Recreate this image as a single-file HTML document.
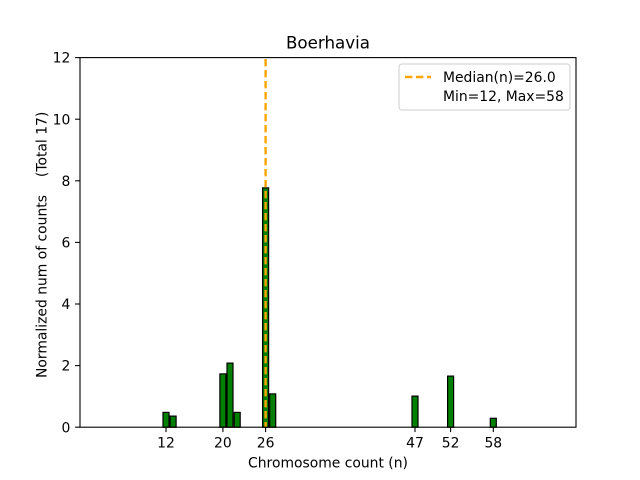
<!DOCTYPE html>
<html>
<head>
<meta charset="utf-8">
<style>
  html, body { margin: 0; padding: 0; background: #fff; }
  svg { display: block; }
  text { font-family: "DejaVu Sans", "Liberation Sans", sans-serif; fill: #000; }
</style>
</head>
<body>
<svg width="640" height="480" viewBox="0 0 640 480" xmlns="http://www.w3.org/2000/svg">
  <rect x="0" y="0" width="640" height="480" fill="#fff"/>

  <!-- bars -->
  <g fill="#008000" stroke="#000" stroke-width="1.2">
    <rect x="163.0" y="412.4" width="6.0" height="14.8"/>
    <rect x="170.1" y="416.1" width="6.0" height="11.1"/>
    <rect x="219.9" y="373.9" width="6.0" height="53.3"/>
    <rect x="227.0" y="363.1" width="6.0" height="64.1"/>
    <rect x="234.2" y="412.4" width="6.0" height="14.8"/>
    <rect x="262.6" y="187.9" width="6.0" height="239.3"/>
    <rect x="269.7" y="393.9" width="6.0" height="33.3"/>
    <rect x="412.0" y="396.1" width="6.0" height="31.1"/>
    <rect x="447.6" y="376.1" width="6.0" height="51.1"/>
    <rect x="490.3" y="418.3" width="6.0" height="8.9"/>
  </g>

  <!-- median line -->
  <line x1="265.6" y1="59" x2="265.6" y2="427.2" stroke="#FFA500" stroke-width="2.4" stroke-dasharray="7.4 3.6"/>

  <!-- axes frame -->
  <rect x="80" y="57.6" width="496" height="369.6" fill="none" stroke="#000" stroke-width="1.1"/>

  <!-- y ticks -->
  <g stroke="#000" stroke-width="1.1">
    <line x1="75.1" y1="427.2" x2="80" y2="427.2"/>
    <line x1="75.1" y1="365.6" x2="80" y2="365.6"/>
    <line x1="75.1" y1="304.0" x2="80" y2="304.0"/>
    <line x1="75.1" y1="242.4" x2="80" y2="242.4"/>
    <line x1="75.1" y1="180.8" x2="80" y2="180.8"/>
    <line x1="75.1" y1="119.2" x2="80" y2="119.2"/>
    <line x1="75.1" y1="57.6" x2="80" y2="57.6"/>
  </g>
  <g font-size="13.9" text-anchor="end">
    <text x="70.3" y="432.3">0</text>
    <text x="70.3" y="370.7">2</text>
    <text x="70.3" y="309.1">4</text>
    <text x="70.3" y="247.5">6</text>
    <text x="70.3" y="185.9">8</text>
    <text x="70.3" y="124.3">10</text>
    <text x="70.3" y="62.7">12</text>
  </g>

  <!-- x ticks -->
  <g stroke="#000" stroke-width="1.1">
    <line x1="166.0" y1="427.2" x2="166.0" y2="432.1"/>
    <line x1="222.9" y1="427.2" x2="222.9" y2="432.1"/>
    <line x1="265.6" y1="427.2" x2="265.6" y2="432.1"/>
    <line x1="415.0" y1="427.2" x2="415.0" y2="432.1"/>
    <line x1="450.6" y1="427.2" x2="450.6" y2="432.1"/>
    <line x1="493.3" y1="427.2" x2="493.3" y2="432.1"/>
  </g>
  <g font-size="13.9" text-anchor="middle">
    <text x="166.0" y="447.3">12</text>
    <text x="222.9" y="447.3">20</text>
    <text x="265.6" y="447.3">26</text>
    <text x="415.0" y="447.3">47</text>
    <text x="450.6" y="447.3">52</text>
    <text x="493.3" y="447.3">58</text>
  </g>

  <!-- axis labels -->
  <text x="328" y="467.5" font-size="13.9" text-anchor="middle">Chromosome count (n)</text>
  <g transform="translate(46.5,0)">
    <text transform="translate(0,378) rotate(-90)" font-size="13.9" text-anchor="start">Normalized num of counts</text>
    <text transform="translate(0,111.7) rotate(-90)" font-size="13.9" text-anchor="end">(Total 17)</text>
  </g>

  <!-- title -->
  <text x="328" y="48.5" font-size="16.7" text-anchor="middle">Boerhavia</text>

  <!-- legend -->
  <rect x="399" y="64" width="171" height="46" rx="2.8" ry="2.8" fill="#fff" fill-opacity="0.8" stroke="#cccccc" stroke-width="1"/>
  <line x1="405" y1="77" x2="431" y2="77" stroke="#FFA500" stroke-width="2.4" stroke-dasharray="7.4 3.6"/>
  <text x="443" y="82" font-size="13.9">Median(n)=26.0</text>
  <text x="443" y="101" font-size="13.9">Min=12, Max=58</text>
</svg>
</body>
</html>
